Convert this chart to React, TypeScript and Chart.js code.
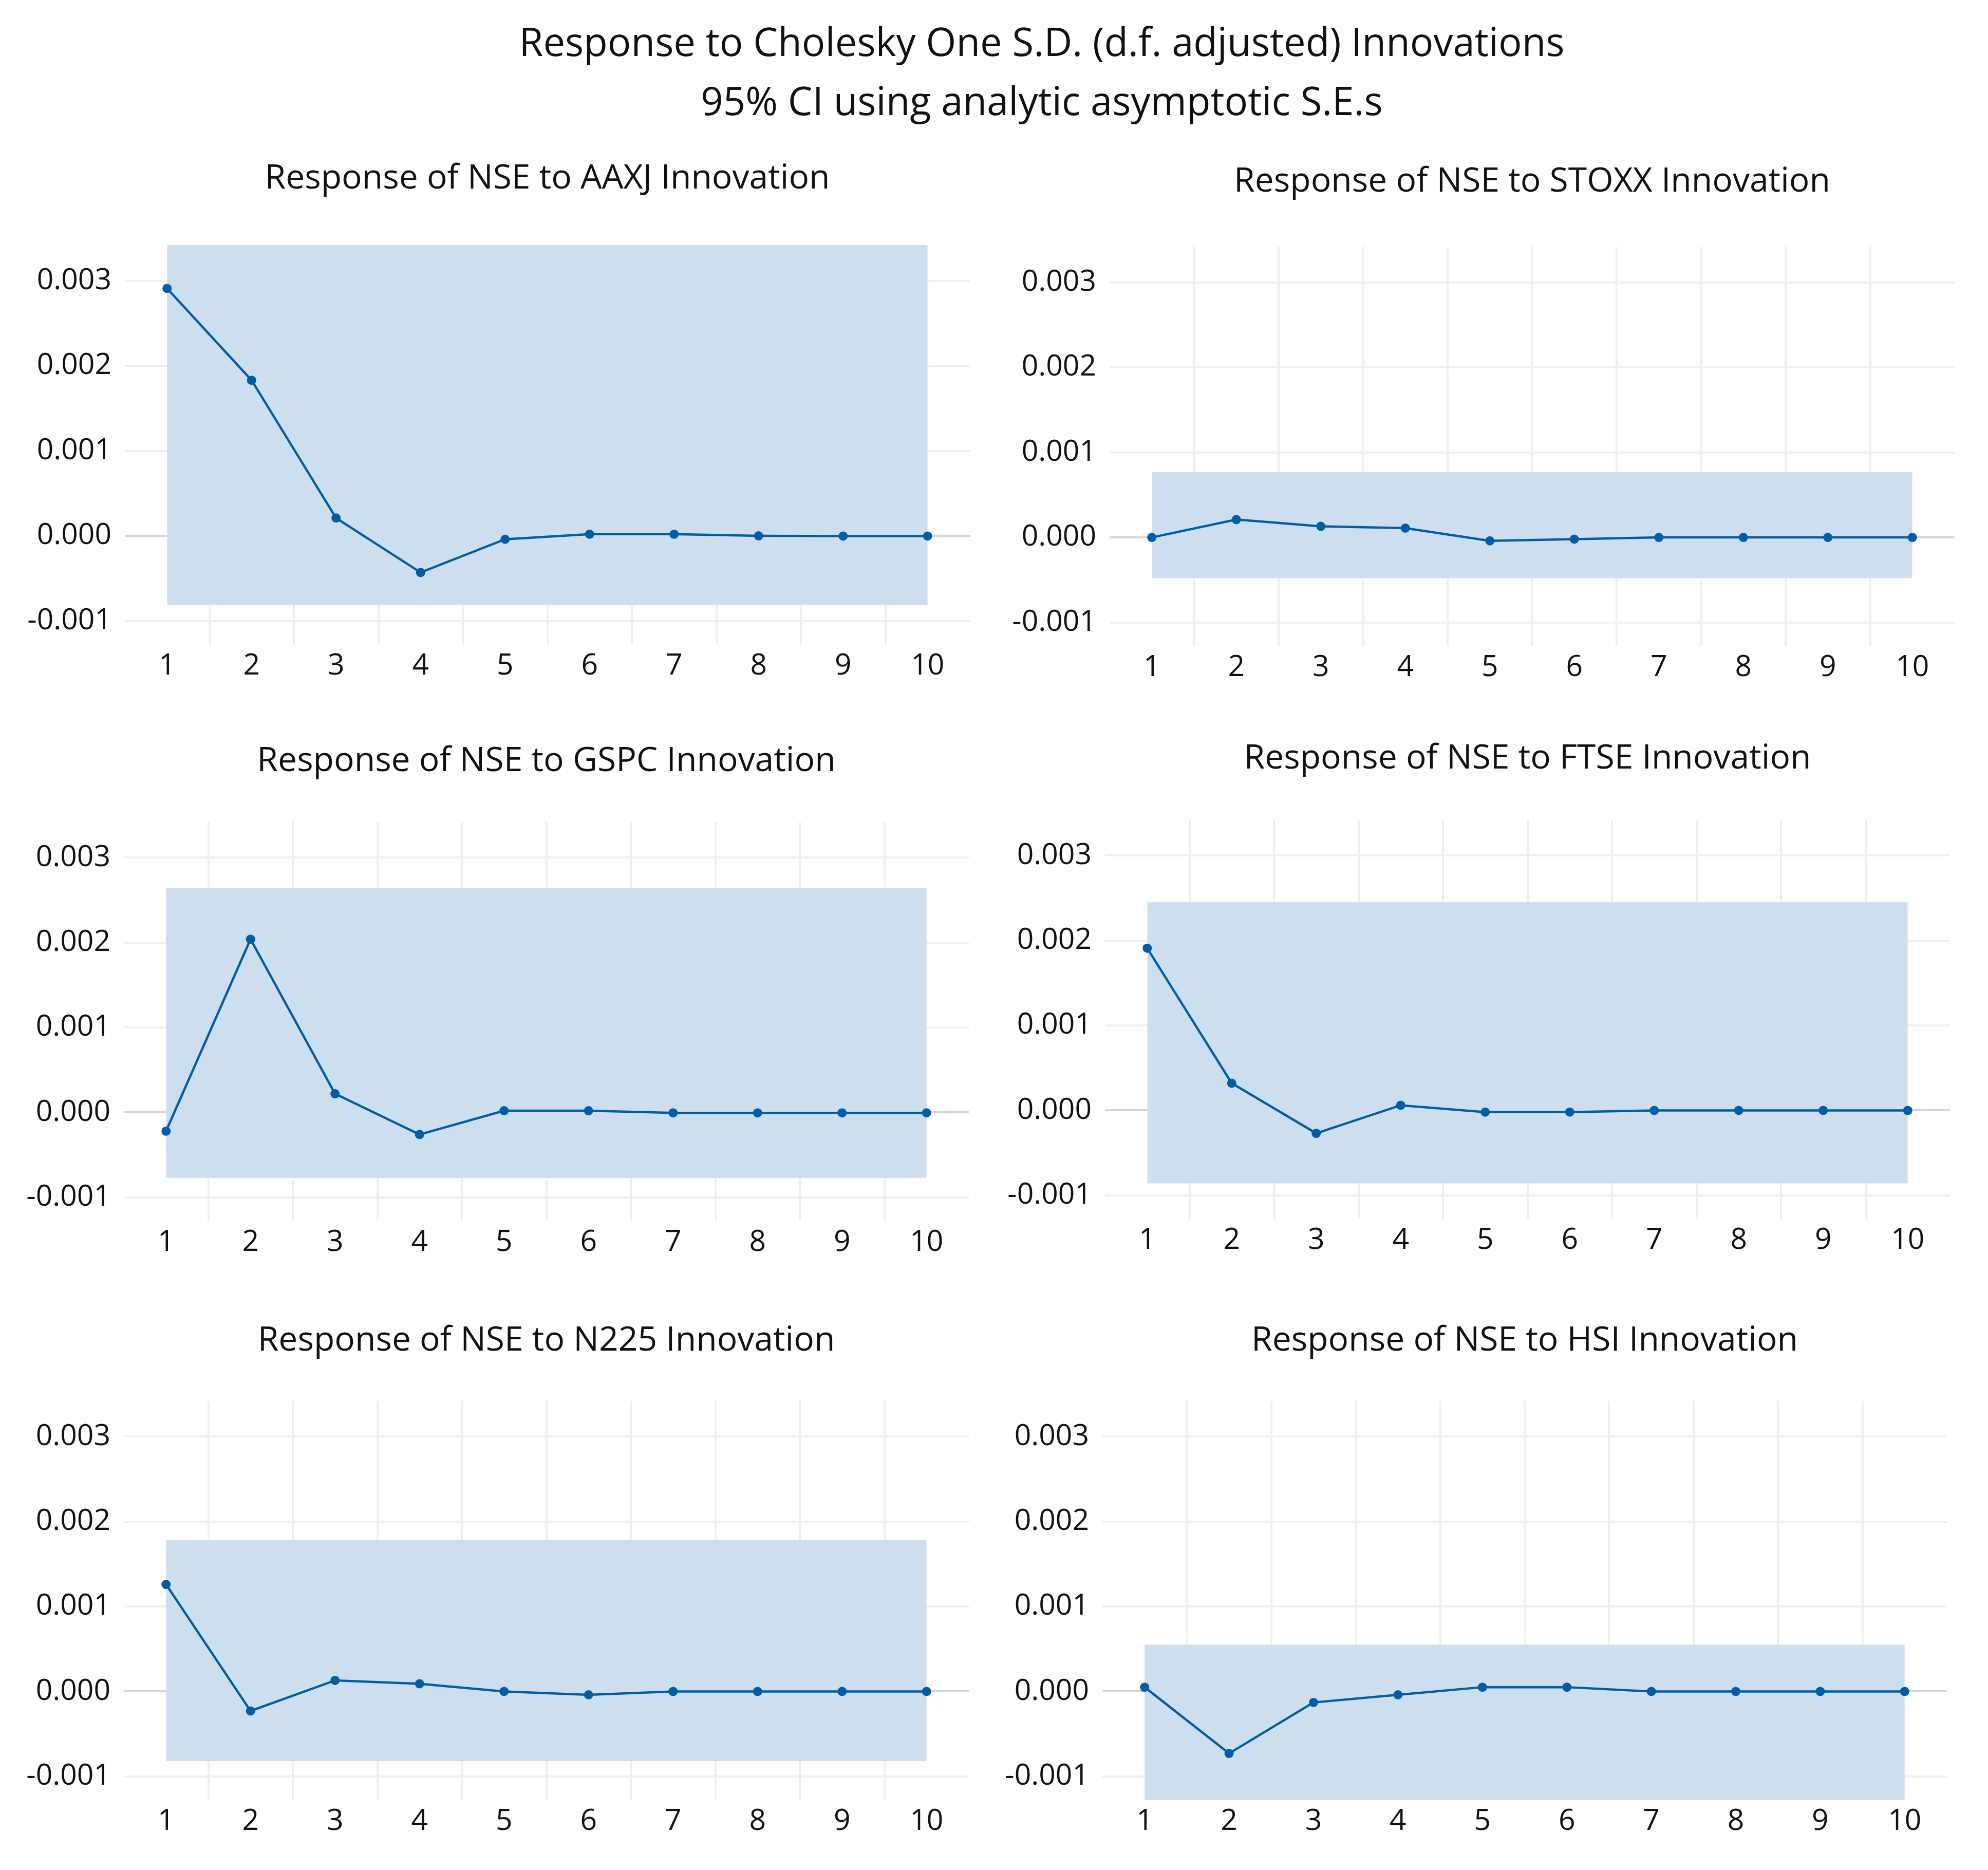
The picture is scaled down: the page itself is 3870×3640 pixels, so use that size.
import React, { useEffect, useRef } from "react";
import { Chart, registerables } from "chart.js";

Chart.register(...registerables);

// ---------- data ----------
const HORIZONS = [1, 2, 3, 4, 5, 6, 7, 8, 9, 10];
const Y_TICKS = [-0.001, 0, 0.001, 0.002, 0.003];
const Y_MIN = -0.00128;
const Y_MAX = 0.00342;

const MAIN_TITLE_1 = "Response to Cholesky One S.D. (d.f. adjusted) Innovations";
const MAIN_TITLE_2 = "95% CI using analytic asymptotic S.E.s";

const SHOCKS = ["AAXJ", "STOXX", "GSPC", "FTSE", "N225", "HSI"];

const RESP_AAXJ = [0.00291, 0.00183, 0.00021, -0.00043, -0.00004, 0.00002, 0.00002, 0.0, -0.000002, -0.000002];
const RESP_STOXX = [0.0, 0.00021, 0.00013, 0.00011, -0.00004, -0.00002, 0.0, 0.0, 0.0, 0.0];
const RESP_GSPC = [-0.00022, 0.00204, 0.00022, -0.00026, 0.00002, 0.00002, -0.000005, -0.000005, -0.000005, -0.000005];
const RESP_FTSE = [0.00191, 0.00032, -0.00027, 0.00006, -0.00002, -0.00002, 0.0, 0.0, 0.0, 0.0];
const RESP_N225 = [0.00126, -0.00023, 0.00013, 0.00009, 0.0, -0.00004, 0.0, 0.0, 0.0, 0.0];
const RESP_HSI = [0.00005, -0.00073, -0.00013, -0.00004, 0.00005, 0.00005, 0.0, 0.0, 0.0, 0.0];

const RESPONSES = [RESP_AAXJ, RESP_STOXX, RESP_GSPC, RESP_FTSE, RESP_N225, RESP_HSI];

const CI_UPPER = [0.00345, 0.00077, 0.00264, 0.00245, 0.00178, 0.00055];
const CI_LOWER = [-0.00081, -0.00048, -0.00077, -0.00086, -0.00082, -0.0013];

// ---------- layout & style ----------
// plot-area boxes (left, right, top, bottom) and title gap per panel
const BOXES = [
  { l: 243, r: 1888, t: 477, b: 1255, gap: 128 },
  { l: 2160, r: 3805, t: 480, b: 1258, gap: 125 },
  { l: 241, r: 1886, t: 1600, b: 2377, gap: 117 },
  { l: 2151, r: 3796, t: 1596, b: 2373, gap: 118 },
  { l: 241, r: 1886, t: 2727, b: 3504, gap: 116 },
  { l: 2146, r: 3790, t: 2727, b: 3504, gap: 116 },
];

const FONT = "'Open Sans'";
const TEXT_COLOR = "#111111";
const LINE_COLOR = "#015ea6";
const BAND_COLOR = "rgb(205,222,239)";
const GRID_COLOR = "#efefef";
const ZERO_COLOR = "#d6d6d6";
const Y_AXIS_W = 240;
const X_AXIS_H = 120;
const TOP_SPACE = 200;
const RIGHT_PAD = 30;
const TITLE_SIZE = 66;
const TICK_SIZE = 57;
const MAIN_SIZE = 76;

function Panel({ idx }: { idx: number }) {
  const ref = useRef<HTMLCanvasElement | null>(null);
  const box = BOXES[idx];
  const width = Y_AXIS_W + (box.r - box.l) + RIGHT_PAD;
  const height = TOP_SPACE + (box.b - box.t) + X_AXIS_H;

  useEffect(() => {
    if (!ref.current) return;
    const lh = TITLE_SIZE * 1.2;
    const pb = box.gap - lh / 2 + 1;
    const lp = TOP_SPACE - lh - pb;
    const resp = RESPONSES[idx];
    const first = HORIZONS[0];
    const last = HORIZONS[HORIZONS.length - 1];
    const chart = new Chart(ref.current, {
      type: "line",
      data: {
        datasets: [
          {
            label: "Response",
            data: HORIZONS.map((h, i) => ({ x: h, y: resp[i] })),
            borderColor: LINE_COLOR,
            backgroundColor: LINE_COLOR,
            borderWidth: 4.5,
            pointRadius: 9,
            pointHoverRadius: 9,
            pointBorderWidth: 0,
            pointBackgroundColor: LINE_COLOR,
            fill: false,
            tension: 0,
          },
          {
            label: "Upper",
            data: [
              { x: first, y: CI_UPPER[idx] },
              { x: last, y: CI_UPPER[idx] },
            ],
            borderColor: "rgba(0,0,0,0)",
            backgroundColor: BAND_COLOR,
            pointRadius: 0,
            fill: "+1",
          },
          {
            label: "Lower",
            data: [
              { x: first, y: CI_LOWER[idx] },
              { x: last, y: CI_LOWER[idx] },
            ],
            borderColor: "rgba(0,0,0,0)",
            backgroundColor: BAND_COLOR,
            pointRadius: 0,
            fill: false,
          },
        ],
      },
      options: {
        responsive: false,
        animation: false,
        devicePixelRatio: 1,
        layout: { padding: { top: lp, right: RIGHT_PAD, left: 0, bottom: 0 } },
        plugins: {
          legend: { display: false },
          tooltip: { enabled: false },
          title: {
            display: true,
            text: "Response of NSE to " + SHOCKS[idx] + " Innovation",
            fullSize: false,
            color: TEXT_COLOR,
            font: { family: FONT, size: TITLE_SIZE, weight: "normal", lineHeight: 1.2 },
            padding: { top: 0, bottom: pb },
          },
        },
        scales: {
          x: {
            type: "linear",
            min: 0.5,
            max: 10.5,
            afterBuildTicks: (s: any) => {
              s.ticks = HORIZONS.map((v) => ({ value: v }));
            },
            afterFit: (s: any) => {
              s.height = X_AXIS_H;
            },
            border: { display: false },
            grid: {
              offset: true,
              drawTicks: false,
              lineWidth: 4,
              color: (c: any) => (c.type === "tick" && c.index > 0 ? GRID_COLOR : "rgba(0,0,0,0)"),
            },
            ticks: {
              autoSkip: false,
              maxRotation: 0,
              padding: 8,
              color: TEXT_COLOR,
              font: { family: FONT, size: TICK_SIZE },
              callback: (v: any) => String(v),
            },
          },
          y: {
            type: "linear",
            min: Y_MIN,
            max: Y_MAX,
            afterBuildTicks: (s: any) => {
              s.ticks = Y_TICKS.map((v) => ({ value: v }));
            },
            afterFit: (s: any) => {
              s.width = Y_AXIS_W;
            },
            border: { display: false },
            grid: {
              drawTicks: false,
              lineWidth: 4,
              color: (c: any) => (c.tick && c.tick.value === 0 ? ZERO_COLOR : GRID_COLOR),
            },
            ticks: {
              padding: 26,
              color: TEXT_COLOR,
              font: { family: FONT, size: TICK_SIZE },
              callback: (v: any) => Number(v).toFixed(3),
            },
          },
        },
      } as any,
    });
    return () => chart.destroy();
  }, [idx]);

  return (
    <canvas
      ref={ref}
      width={width}
      height={height}
      style={{
        position: "absolute",
        left: box.l - Y_AXIS_W,
        top: box.t - TOP_SPACE,
        width,
        height,
      }}
    />
  );
}

export default function App() {
  const titleStyle: React.CSSProperties = {
    position: "absolute",
    left: 2028 - 2000,
    width: 4000,
    textAlign: "center",
    fontFamily: FONT,
    fontSize: MAIN_SIZE,
    lineHeight: "70px",
    color: TEXT_COLOR,
    whiteSpace: "nowrap",
  };
  return (
    <div
      style={{
        position: "absolute",
        left: 0,
        top: 0,
        width: 3870,
        height: 3640,
        background: "#ffffff",
        overflow: "hidden",
      }}
    >
      <div style={{ ...titleStyle, top: 45 }}>{MAIN_TITLE_1}</div>
      <div style={{ ...titleStyle, top: 160 }}>{MAIN_TITLE_2}</div>
      {SHOCKS.map((_, i) => (
        <Panel key={i} idx={i} />
      ))}
    </div>
  );
}
